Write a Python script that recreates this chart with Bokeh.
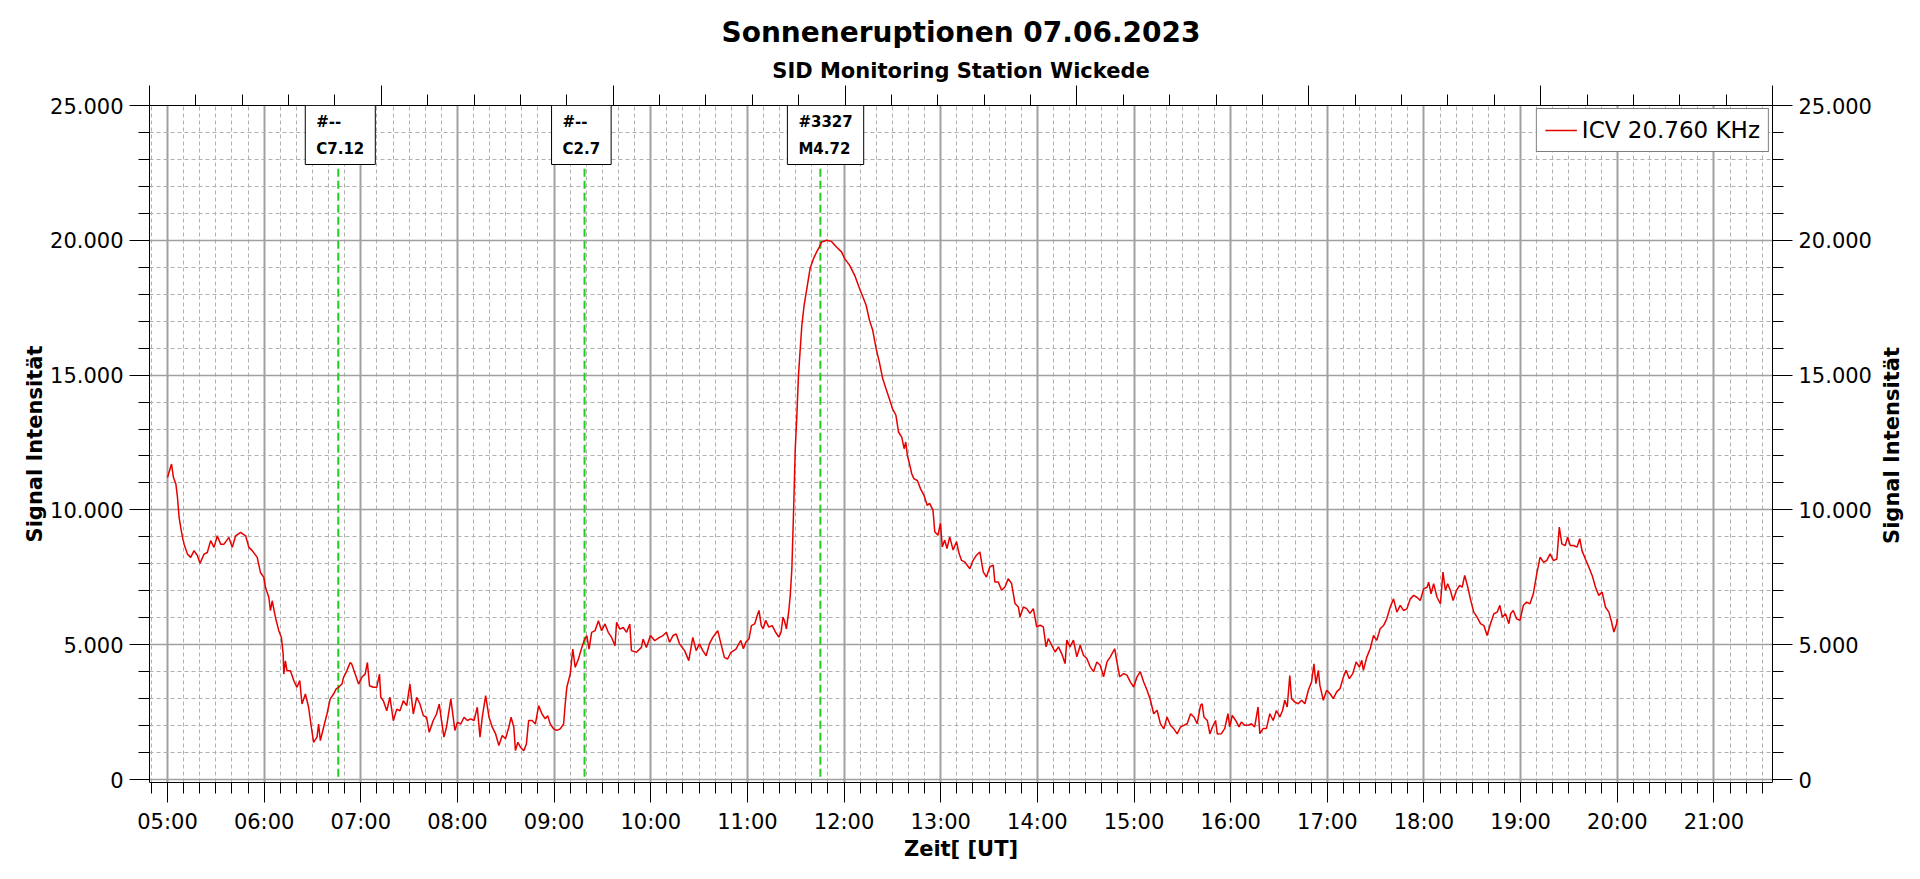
import math
from bokeh.plotting import figure
from bokeh.layouts import row
from bokeh.models import (Range1d, LinearAxis, SingleIntervalTicker, Label, Legend,
                          LegendItem, ColumnDataSource, Grid, Title)
from bokeh.embed import file_html
from bokeh.resources import INLINE

# ---------------- data ----------------
# minutes after 05:00 UT
minutes = [
    0, 2.5, 3.7, 5.2, 6.2, 7.2, 8.2, 9.3, 10.3, 12.4, 14.4, 16.5, 18.6, 20.2, 22.7, 24.7, 26.8, 28.9,
    30.9, 33.0, 35.1, 38.1, 40.2, 42.3, 45.4, 48.5, 50.5, 52.6, 55.7, 57.7, 59.8, 60.8, 62.9, 63.9,
    65.0, 67.0, 69.1, 70.7, 71.8, 72.2, 73.2, 74.2, 76.3, 78.4, 80.4, 82.1, 83.5, 85.6, 87.6, 89.3,
    90.7, 92.8, 93.8, 94.9, 96.9, 99.0, 101.0, 103.1, 104.7, 106.2, 108.3, 109.3, 111.3, 113.4,
    114.4, 116.5, 118.6, 120.6, 122.7, 124.1, 125.4, 127.8, 129.9, 131.6, 132.4, 134.0, 136.1,
    138.1, 140.2, 142.3, 144.3, 146.4, 148.5, 150.5, 152.6, 154.7, 156.7, 158.8, 160.8, 162.5,
    164.9, 167.0, 168.7, 170.1, 171.6, 173.2,
    175.9, 178.4, 180.0, 182.1, 184.1, 186.2, 188.2, 190.3, 192.3, 194.0, 195.4, 197.5, 199.6,
    201.6, 203.7, 205.7, 207.8, 209.8, 211.9, 213.3, 215.0, 216.0, 217.5, 219.1, 221.2, 222.8,
    224.2, 226.3, 228.4, 230.4, 232.5, 234.5, 236.0, 237.6, 239.7, 241.7, 243.8, 245.9, 246.9,
    247.9, 250.0, 251.6, 253.1, 255.1, 257.2, 258.6, 260.3, 261.7, 263.3, 265.4, 267.5, 269.5,
    271.6, 273.6, 275.7, 277.8, 278.8, 280.8, 282.9, 285.0, 287.0, 288.0, 291.1, 294.2, 295.2,
    297.3, 299.8, 302.5, 305.5, 307.6, 309.7, 311.7, 313.8, 315.8, 317.9, 321.0, 323.6, 326.1,
    328.2, 330.2, 332.3, 334.4, 336.4, 338.5, 341.6, 343.6, 345.7, 347.7, 349.8, 352.9,
    355.9, 357.5, 359.0, 361.0, 362.5, 364.5, 366.1, 367.2, 368.6, 369.8, 371.3, 373.3, 375.4,
    377.4, 379.5, 380.9, 382.1, 382.9, 384.2, 385.6, 386.6, 387.6, 388.7, 389.7, 390.7, 391.7,
    392.8, 393.8, 395.2, 396.9, 398.9, 401.0, 403.0, 404.6, 406.1, 409.2, 412.2, 415.3, 418.4,
    420.4, 423.5, 426.6, 429.6, 431.7, 433.7, 435.8, 437.8, 439.9, 441.9, 444.0, 446.0, 448.1,
    450.1, 452.2, 453.8, 455.8, 457.3, 458.3, 459.3, 460.4, 462.0, 463.4, 465.5, 467.5, 469.6,
    471.6,
    473.1, 475.2, 476.3, 478.3, 479.8, 481.0, 482.5, 483.9, 485.6, 487.7, 489.8, 491.4, 492.9,
    494.9, 498.1, 500.1, 502.2, 504.3, 506.4, 508.4, 510.5, 512.6, 513.6, 515.7, 517.8, 519.9,
    521.9, 524.0, 526.1, 528.2, 529.2, 531.3, 533.4, 535.4, 537.5, 539.6, 541.7, 543.7, 545.4,
    546.8, 548.9, 551.0, 553.1, 555.1, 557.2, 558.3, 560.3, 562.4, 564.5, 566.6, 568.6, 570.7,
    572.8, 574.9, 576.9, 579.0, 581.1, 583.2, 585.3, 588.0, 589.4, 591.1, 593.6, 595.6, 597.7,
    599.8, 601.9, 603.9, 606.0, 608.1, 610.2, 612.2, 614.3, 616.4, 618.5, 620.5, 622.6, 624.7,
    626.8, 628.8, 630.9, 633.0, 635.1, 637.2, 639.2, 641.3, 642.3, 643.4, 645.5, 647.1, 648.6,
    650.6, 651.7,
    654.2, 656.3, 658.3, 659.4, 661.0, 663.1, 665.2, 666.6, 668.7, 670.8, 672.9, 674.9, 677.0,
    678.1, 680.1, 682.2, 684.3, 686.4, 688.4, 690.5, 692.2, 693.6, 695.1, 696.7, 697.8, 699.9,
    701.9, 704.0, 706.1, 708.2, 710.2, 711.7, 712.9, 714.4, 715.4, 717.5, 719.6, 721.7, 723.7,
    725.8, 727.9, 730.0, 731.6, 733.7, 735.8, 737.9, 739.9, 741.4, 742.4, 744.5, 746.6, 748.7,
    750.7, 752.8, 754.9, 756.9, 759.0, 761.1, 763.2, 765.3, 767.3, 769.4, 771.5, 773.6, 775.6,
    777.7, 779.8, 781.9, 782.9, 784.4, 786.0, 788.1, 790.2, 791.8, 793.3, 794.7, 796.4, 798.1,
    800.1, 802.2, 803.7, 805.3, 807.2, 808.8, 810.9, 813.0, 815.1, 817.2, 819.2, 821.3, 823.4,
    825.5, 827.1, 828.6, 830.6, 832.7,
    833.8, 835.4, 837.5, 839.6, 841.7, 843.7, 845.8, 847.9, 850.0, 852.1, 854.2, 856.2, 858.3,
    860.4, 862.5, 864.0, 865.6, 867.7, 869.2, 870.8, 872.9, 875.0, 876.7, 878.1, 880.2, 882.3,
    884.4, 886.5, 888.5, 890.6, 892.7, 894.8, 896.2, 897.9, 899.6, 900.0,
]
signal = [
    11200, 11700, 11200, 10960, 10460, 9720, 9350, 8980, 8730, 8360, 8240, 8490, 8300, 8020, 8360,
    8420, 8860, 8610, 9040, 8730, 8730, 8980, 8610, 9040, 9170, 9040, 8610, 8490, 8240, 7680, 7500,
    7130, 6760, 6260, 6630, 6010, 5520, 5270, 4650, 3910, 4400, 4030, 4030, 3670, 3420, 3670, 2800,
    3170, 2680, 1940, 1380, 1570, 2060, 1440, 1940, 2430, 2990, 3170, 3360, 3420, 3540, 3790, 4030,
    4340, 4280, 3910, 3540, 3790, 3910, 4340, 3480, 3420, 3420, 3910, 3050, 2920, 2550, 3050, 2180,
    2610, 2550, 2920, 2740, 3540, 2430, 3050, 2800, 2370, 2310, 1750, 2180, 2430, 2800, 2180, 1570,
    1940,
    2990, 1820, 2120, 2060, 2310, 2190, 2250, 2190, 2680, 1570, 2310, 3110, 2310, 1940, 1690, 1260,
    1630, 1510, 1940, 2310, 1940, 1070, 1380, 1200, 1070, 1320, 2190, 2190, 2060, 2740, 2430, 2250,
    2370, 2060, 1880, 1820, 1880, 2060, 2800, 3420, 3910, 4840, 4160, 4470, 4900, 5150, 5340, 4840,
    5460, 5520, 5890, 5520, 5770, 5460, 5270, 4960, 5830, 5580, 5640, 5460, 5770, 4780, 4720, 4900,
    5210, 4900, 5340, 5150, 5270, 5340, 5460, 5090, 5340, 5400, 5030, 4780, 4410, 5270, 4780, 5030,
    4780, 4590, 5030, 5270, 5520, 5030, 4530, 4470, 4720, 4840,
    5160, 4850, 5090, 5220, 5710, 5770, 6080, 6270, 5710, 5590, 5900, 5650, 5710, 5470, 5280, 5470,
    6020, 5900, 5590, 6210, 6830, 7820, 10040, 12270, 13510, 14990, 15980, 16850, 17590, 18210,
    18950, 19320, 19570, 19750, 19940, 20000, 19960, 19750, 19570, 19320, 19070, 18700, 18210,
    17900, 17590, 17030, 16660, 15980, 15480, 14870, 14500, 14120, 13750, 13510, 12890, 12700,
    12270, 12520, 12020, 11770, 11340, 11150, 11090, 10780, 10540, 10170,
    10240, 9990, 9190, 9060, 9500, 8630, 8880, 8570, 9000, 8510, 8820, 8380, 8130, 8070, 7820, 8130,
    8320, 8440, 7700, 7510, 7890, 7950, 7330, 7330, 7020, 7140, 7450, 7270, 6530, 6400, 6030, 6400,
    6340, 6160, 6340, 5660, 5720, 5660, 4920, 5230, 4980, 4730, 4920, 4670, 4300, 5170, 4920, 5170,
    4550, 4980, 4610, 4490, 4180, 4000, 4360, 4240, 3810, 4360, 4550, 4850, 4360, 3810, 3930, 3870,
    3620, 3430, 3810, 4000, 3620, 3310, 2940, 2440, 2570, 2070, 1880, 2320, 2010, 1880, 1690, 1940,
    2010, 2070, 2440, 2320, 2070, 2750, 2810, 2320, 2190, 1690, 1940, 2190, 1690,
    1700, 1890, 2440, 1950, 2380, 2190, 1950, 2130, 2010, 2010, 2070, 1950, 2690, 1700, 1890, 1890,
    2440, 2190, 2560, 2320, 2560, 2940, 2690, 3860, 3000, 2870, 2810, 2940, 2810, 3310, 3620, 4290,
    3550, 4050, 3490, 2940, 3310, 3180, 3000, 3250, 3370, 3800, 4050, 3740, 3930, 4360, 4170, 4420,
    4050, 4540, 4850, 5340, 5160, 5590, 5710, 5960, 6390, 6700, 6210, 6460, 6270, 6330, 6700, 6830,
    6760, 6640, 7070, 7130, 7320, 6890, 7260, 6760, 6520, 7690, 7010, 7260, 7010, 6640, 7010, 7200,
    7130, 7570, 7130, 6700, 6210, 6020, 5780, 5710, 5340, 5780, 6150, 6210, 6460, 6020, 6150, 5780,
    6150, 6270, 5960, 5900, 6460, 6580, 6520, 6890, 7630, 8250, 8060, 8120, 8370, 8120, 8180, 9360,
    8740, 8680, 8990, 8680, 8680, 8620, 8930, 8490, 8180, 7880, 7570, 7130, 6830, 6950, 6390, 6210,
    5900, 5470, 5780, 5960,
]

series_name = "ICV 20.760 KHz"

# flare markers (time in hours UT)
flare_times = [6.767, 9.315, 11.755]
flare_ids = ["#--", "#--", "#3327"]
flare_classes = ["C7.12", "C2.7", "M4.72"]

hour_ticks = list(range(5, 22))
hour_labels = ["%02d:00" % h for h in hour_ticks]
y_ticks = [0, 5000, 10000, 15000, 20000, 25000]
y_labels = ["0", "5.000", "10.000", "15.000", "20.000", "25.000"]

title_text = "Sonneneruptionen 07.06.2023"
subtitle_text = "SID Monitoring Station Wickede"
x_title = "Zeit[ [UT]"
y_title = "Signal Intensität"

# ---------------- main figure ----------------
W, H = 1877, 877
W2 = 40
ML, MT = 149, 105
MR = W - 1772
MB = H - 782

p = figure(width=W, height=H, x_range=Range1d(4.8138, 21.606), y_range=Range1d(-111, 25000),
           output_backend="svg", toolbar_location=None, x_axis_type=None, y_axis_type=None,
           min_border_left=ML, min_border_right=MR, min_border_top=MT, min_border_bottom=MB)
p.outline_line_color = None
p.background_fill_color = "white"
p.border_fill_color = "white"

xticker = SingleIntervalTicker(interval=1, num_minor_ticks=6)
yticker = SingleIntervalTicker(interval=5000, num_minor_ticks=5)

FONT = "DejaVu Sans"


def style_axis(ax):
    ax.major_tick_in = 0
    ax.minor_tick_in = 0
    ax.major_tick_out = 20
    ax.minor_tick_out = 11
    ax.axis_line_color = "black"
    ax.major_tick_line_color = "black"
    ax.minor_tick_line_color = "black"
    ax.major_label_text_font = FONT
    ax.major_label_text_font_size = "21px"
    ax.major_label_text_color = "black"
    ax.major_label_standoff = 6
    ax.axis_label_text_font = FONT
    ax.axis_label_text_font_style = "bold"
    ax.axis_label_text_font_size = "21px"
    ax.axis_label_text_color = "black"


xaxis = LinearAxis(ticker=xticker, axis_label=x_title)
style_axis(xaxis)
xaxis.major_label_overrides = dict(zip(hour_ticks, hour_labels))
xaxis.major_label_standoff = 7
xaxis.axis_label_standoff = 0
p.add_layout(xaxis, "below")

yaxis_l = LinearAxis(ticker=yticker, axis_label=y_title)
style_axis(yaxis_l)
yaxis_l.major_label_overrides = dict(zip(y_ticks, y_labels))
yaxis_l.axis_label_standoff = 0
p.add_layout(yaxis_l, "left")

yaxis_r = LinearAxis(ticker=yticker)
style_axis(yaxis_r)
yaxis_r.major_label_overrides = dict(zip(y_ticks, y_labels))
p.add_layout(yaxis_r, "right")

p.extra_x_ranges = {"top": Range1d(0, 7)}
top_axis = LinearAxis(x_range_name="top", ticker=SingleIntervalTicker(interval=1, num_minor_ticks=5))
style_axis(top_axis)
top_axis.major_label_text_color = None
top_axis.major_label_text_font_size = "0px"
top_axis.major_label_standoff = 0
p.add_layout(top_axis, "above")

p.add_layout(Title(text=subtitle_text, align="center", text_font=FONT, text_font_style="bold",
                   text_font_size="21px", text_color="black", standoff=5), "above")
p.add_layout(Title(text=title_text, align="center", text_font=FONT, text_font_style="bold",
                   text_font_size="28px", text_color="black", standoff=11), "above")

xgrid = Grid(dimension=0, ticker=xticker, grid_line_color="#a0a0a0", grid_line_width=2,
             minor_grid_line_color="#b0b0b0", minor_grid_line_dash="4 3", minor_grid_line_width=1)
ygrid = Grid(dimension=1, ticker=yticker, grid_line_color="#a0a0a0", grid_line_width=1.5,
             minor_grid_line_color="#b0b0b0", minor_grid_line_dash="4 3", minor_grid_line_width=1)
p.add_layout(xgrid)
p.add_layout(ygrid)

# flare lines
fsrc = ColumnDataSource(dict(x=flare_times, y0=[100] * len(flare_times), y1=[25000] * len(flare_times)))
p.segment(x0="x", y0="y0", x1="x", y1="y1", source=fsrc, line_color="#22cc22",
          line_width=2, line_dash="8 4")

# signal line
src = ColumnDataSource(dict(t=[5 + m / 60.0 for m in minutes], v=signal))
r = p.line("t", "v", source=src, line_color="#e60000", line_width=1.5)

legend = Legend(items=[LegendItem(label=series_name, renderers=[r])], location="top_right")
legend.label_text_font = FONT
legend.label_text_font_size = "23px"
legend.label_text_color = "black"
legend.padding = 8
legend.margin = 3
legend.spacing = 0
legend.glyph_width = 32
legend.glyph_height = 24
legend.label_height = 24
legend.label_standoff = 5
legend.border_line_color = "black"
legend.border_line_width = 1
legend.background_fill_color = "white"
legend.background_fill_alpha = 1.0
p.add_layout(legend)

# flare boxes
for t, fid, fcl in zip(flare_times, flare_ids, flare_classes):
    p.add_layout(Label(x=t, y=25000, x_offset=-33, text=fid + "\n" + fcl,
                       text_font=FONT, text_font_style="bold", text_font_size="15px",
                       text_align="left", text_baseline="top", text_line_height=1.5,
                       text_color="black", background_fill_color="white",
                       border_line_color="black", border_line_width=1, padding=(11, 7)))

# ---------------- narrow strip with the right-hand axis title ----------------
p2 = figure(width=W2, height=H, x_range=Range1d(0, 1), y_range=Range1d(0, 1),
            output_backend="svg", toolbar_location=None, x_axis_type=None, y_axis_type=None,
            min_border=0, min_border_left=0, min_border_right=0, min_border_top=0,
            min_border_bottom=0)
p2.outline_line_color = None
p2.background_fill_color = "white"
p2.border_fill_color = "white"
p2.add_layout(Label(x=14, y=H - 540, x_units="screen", y_units="screen", text=y_title,
                    angle=math.pi / 2, text_font=FONT, text_font_style="bold",
                    text_font_size="21px", text_align="center", text_baseline="middle",
                    text_color="black"))

layout = row(p, p2)
open("out.html", "w").write(file_html(layout, INLINE))
